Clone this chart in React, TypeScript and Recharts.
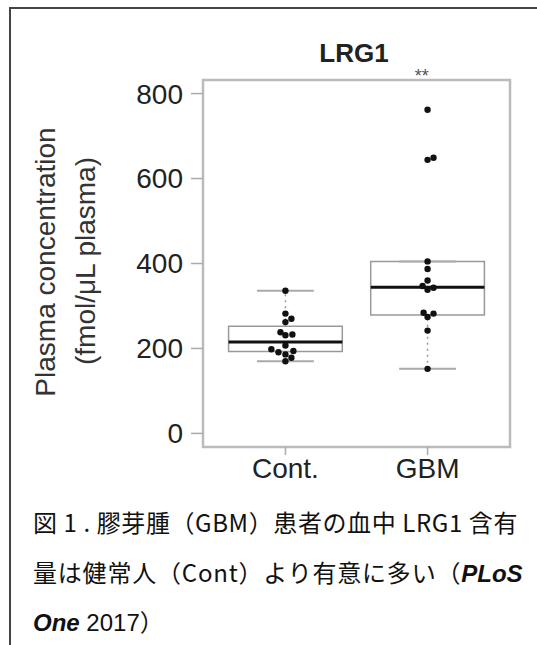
import React from 'react';
import {
  ComposedChart, Scatter, XAxis, YAxis, ReferenceArea, ReferenceLine, ReferenceDot,
} from 'recharts';

const categories = ['Cont.', 'GBM'];
const positions = [1, 2];
const yTicks = [0, 200, 400, 600, 800];

// individual samples, jitter = horizontal spread in the swarm
const contValues = [336, 282, 270, 262, 238, 231, 233, 207, 198, 191, 186, 194, 178, 170];
const contJitter = [0, 0, 0.042, 0, -0.035, 0, 0.049, 0, -0.099, -0.049, 0, 0.056, 0.042, 0];
const gbmValues = [405, 387, 360, 347, 343, 338, 284, 282, 274, 242, 152, 762, 644, 649];
const gbmJitter = [0, 0, 0, -0.035, 0.042, 0, -0.028, 0.042, 0, 0, 0, 0, 0, 0.042];

// box statistics per group
const q1 = [193, 279];
const medians = [215, 344];
const q3 = [252, 405];
const whiskerLow = [170, 152];
const whiskerHigh = [336, 405];

const BOX_HALF = 0.4;
const CAP_HALF = 0.2;
const X_DOMAIN: [number, number] = [0.42, 2.58];
const Y_DOMAIN: [number, number] = [-32, 832];

const contPoints = contValues.map((v, i) => ({ x: positions[0] + contJitter[i], y: v }));
const gbmPoints = gbmValues.map((v, i) => ({ x: positions[1] + gbmJitter[i], y: v }));

const Dot = (p: any) => <circle cx={p.cx} cy={p.cy} r={3.2} fill="#111" />;

const sans = '"Liberation Sans", Arial, sans-serif';
const cjk = '"Noto Sans CJK JP", "Noto Sans", sans-serif';

export default function App() {
  return (
    <div style={{ position: 'absolute', left: 0, top: 0, width: 537, height: 645, background: '#fff', overflow: 'hidden', fontFamily: sans }}>
      <div style={{ position: 'absolute', left: 9, top: 7, width: 700, height: 800, borderTop: '2px solid #444', borderLeft: '2px solid #444' }} />

      <div style={{ position: 'absolute', left: 254, width: 200, top: 38, textAlign: 'center', fontSize: 26, fontWeight: 'bold', color: '#222', lineHeight: '30px' }}>
        LRG1
      </div>

      <div style={{ position: 'absolute', left: 46 - 200, top: 262 - 16, width: 400, lineHeight: '32px', textAlign: 'center', fontSize: 28, color: '#333', transform: 'rotate(-90deg)' }}>
        Plasma concentration
      </div>
      <div style={{ position: 'absolute', left: 86 - 200, top: 261 - 16, width: 400, lineHeight: '32px', textAlign: 'center', fontSize: 28, color: '#333', transform: 'rotate(-90deg)' }}>
        (fmol/μL plasma)
      </div>

      <div style={{ position: 'absolute', left: 0, top: 0 }}>
        <ComposedChart width={537} height={500} margin={{ top: 80, right: 27, bottom: 13, left: 123 }}>
          <XAxis
            type="number"
            dataKey="x"
            domain={X_DOMAIN}
            ticks={positions}
            tickFormatter={(v: number) => categories[positions.indexOf(v)] ?? ''}
            axisLine={false}
            tickLine={{ stroke: '#aaa', strokeWidth: 1.5 }}
            tickSize={8}
            tickMargin={3}
            height={40}
            tick={{ fill: '#222', fontSize: 28, fontFamily: sans }}
            allowDataOverflow
          />
          <YAxis
            type="number"
            dataKey="y"
            domain={Y_DOMAIN}
            ticks={yTicks}
            axisLine={false}
            tickLine={{ stroke: '#aaa', strokeWidth: 1.5 }}
            tickSize={12}
            tickMargin={8}
            width={80}
            tick={{ fill: '#222', fontSize: 28, fontFamily: sans }}
            allowDataOverflow
          />
          <ReferenceArea x1={X_DOMAIN[0]} x2={X_DOMAIN[1]} y1={Y_DOMAIN[0]} y2={Y_DOMAIN[1]} fill="none" stroke="#bbb" strokeWidth={2.5} fillOpacity={0} strokeOpacity={1} />
          {positions.map((pos, i) => (
            <ReferenceArea key={`box-${i}`} x1={pos - BOX_HALF} x2={pos + BOX_HALF} y1={q1[i]} y2={q3[i]} fill="none" fillOpacity={0} stroke="#999" strokeWidth={1.5} strokeOpacity={1} />
          ))}
          {positions.map((pos, i) => (
            <ReferenceLine key={`wl-${i}`} segment={[{ x: pos, y: whiskerLow[i] }, { x: pos, y: q1[i] }]} stroke="#999" strokeWidth={1.5} strokeDasharray="2 4" />
          ))}
          {positions.map((pos, i) => (
            <ReferenceLine key={`wh-${i}`} segment={[{ x: pos, y: q3[i] }, { x: pos, y: whiskerHigh[i] }]} stroke="#999" strokeWidth={1.5} strokeDasharray="2 4" />
          ))}
          {positions.map((pos, i) => (
            <ReferenceLine key={`cl-${i}`} segment={[{ x: pos - CAP_HALF, y: whiskerLow[i] }, { x: pos + CAP_HALF, y: whiskerLow[i] }]} stroke="#aaa" strokeWidth={2} />
          ))}
          {positions.map((pos, i) => (
            <ReferenceLine key={`ch-${i}`} segment={[{ x: pos - CAP_HALF, y: whiskerHigh[i] }, { x: pos + CAP_HALF, y: whiskerHigh[i] }]} stroke="#aaa" strokeWidth={2} />
          ))}
          {positions.map((pos, i) => (
            <ReferenceLine key={`med-${i}`} segment={[{ x: pos - BOX_HALF, y: medians[i] }, { x: pos + BOX_HALF, y: medians[i] }]} stroke="#111" strokeWidth={3} />
          ))}
          <Scatter data={contPoints} shape={Dot} isAnimationActive={false} />
          <Scatter data={gbmPoints} shape={Dot} isAnimationActive={false} />
          <ReferenceDot x={positions[1] - 0.04} y={Y_DOMAIN[1]} r={0} fill="none" stroke="none"
            label={{ value: '**', position: 'top', offset: -2, fontSize: 18, fill: '#555', fontFamily: sans }} />
        </ComposedChart>
      </div>

      <div style={{ position: 'absolute', left: 33, top: 510, fontFamily: cjk, fontSize: 24, lineHeight: '24px', color: '#111', whiteSpace: 'nowrap', letterSpacing: 0.6 }}>
        図 1 . 膠芽腫（GBM）患者の血中 LRG1 含有
      </div>
      <div style={{ position: 'absolute', left: 33, top: 560, fontFamily: cjk, fontSize: 24, lineHeight: '24px', color: '#111', whiteSpace: 'nowrap', letterSpacing: 0.8 }}>
        量は健常人（Cont）より有意に多い（<b style={{ fontFamily: sans, fontStyle: 'italic', letterSpacing: 0 }}>PLoS</b>
      </div>
      <div style={{ position: 'absolute', left: 33, top: 609, fontFamily: cjk, fontSize: 24, lineHeight: '24px', color: '#111', whiteSpace: 'nowrap' }}>
        <b style={{ fontFamily: sans, fontStyle: 'italic' }}>One</b><span style={{ fontFamily: sans }}> 2017</span>）
      </div>
    </div>
  );
}
